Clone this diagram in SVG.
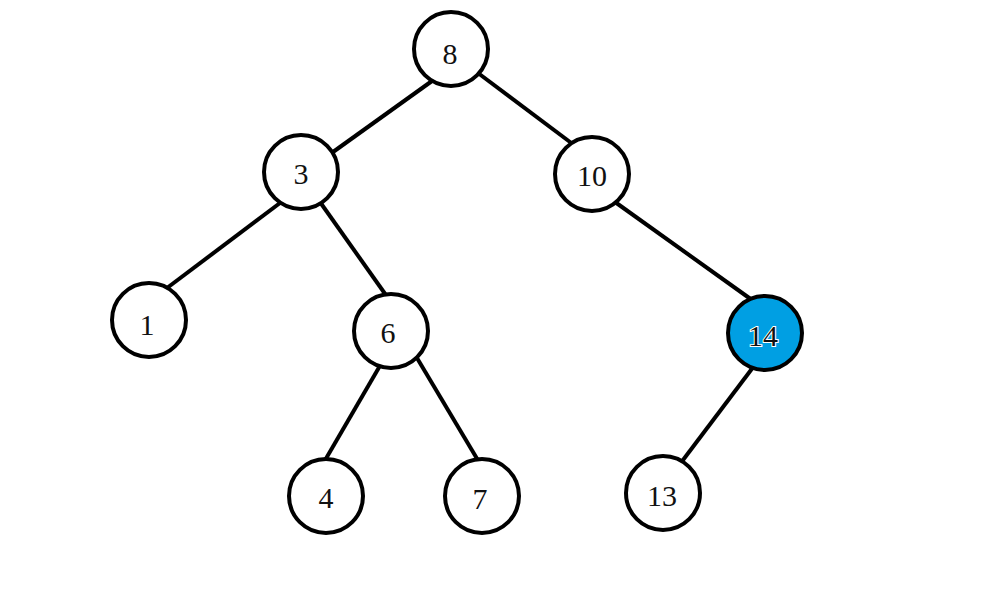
<svg xmlns="http://www.w3.org/2000/svg" width="981" height="597" viewBox="0 0 981 597">
<style>
.n circle{fill:#fff;stroke:#000;stroke-width:4}
.n text{font-family:"Liberation Serif","Times New Roman",serif;font-size:30px;text-anchor:middle;fill:#111}
#edges line{stroke:#000;stroke-width:4}
</style>
<rect width="981" height="597" fill="#fff"/>
<g id="edges">
<line x1="432" y1="81" x2="333" y2="152"/>
<line x1="478" y1="73" x2="574" y2="145"/>
<line x1="284" y1="200" x2="163" y2="291"/>
<line x1="320" y1="202" x2="388" y2="298"/>
<line x1="615" y1="202" x2="752" y2="300"/>
<line x1="381" y1="364" x2="324" y2="462"/>
<line x1="417" y1="358" x2="479" y2="462"/>
<line x1="754" y1="366" x2="680" y2="464"/>
</g>
<g id="n8" class="n"><circle cx="451" cy="49" r="37"/><text x="450" y="64">8</text></g>
<g id="n3" class="n"><circle cx="301" cy="172" r="37"/><text x="301" y="184">3</text></g>
<g id="n10" class="n"><circle cx="592" cy="174" r="37"/><text x="592" y="186">10</text></g>
<g id="n1" class="n"><circle cx="149" cy="320" r="37"/><text x="147" y="335">1</text></g>
<g id="n6" class="n"><circle cx="391" cy="331" r="37"/><text x="388" y="343">6</text></g>
<g id="n14" class="n"><circle cx="765" cy="333" r="37" style="fill:#009fe3"/><text x="763" y="346" style="fill:#111;stroke:#fff;stroke-width:2;paint-order:stroke">14</text></g>
<g id="n4" class="n"><circle cx="326" cy="496" r="37"/><text x="326" y="508">4</text></g>
<g id="n7" class="n"><circle cx="482" cy="496" r="37"/><text x="480" y="509">7</text></g>
<g id="n13" class="n"><circle cx="663" cy="493" r="37"/><text x="662" y="506">13</text></g>
</svg>
